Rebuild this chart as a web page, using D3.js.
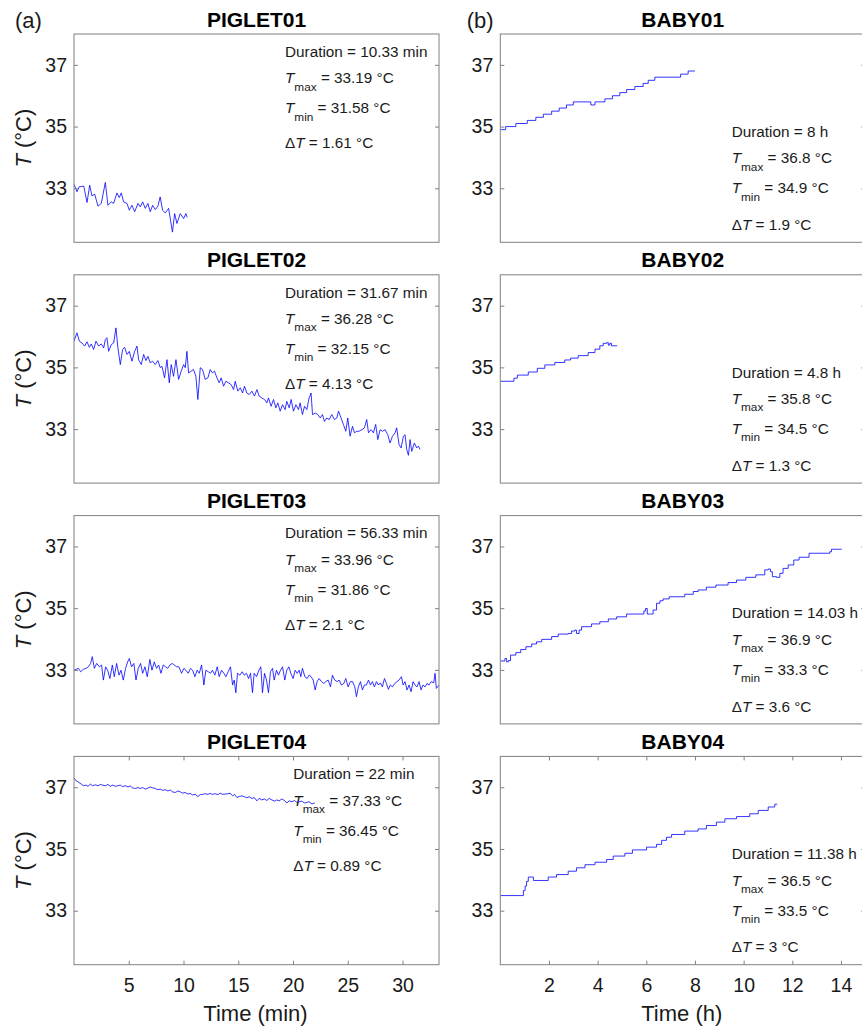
<!DOCTYPE html>
<html>
<head>
<meta charset="utf-8">
<script src="https://cdn.jsdelivr.net/npm/d3@7/dist/d3.min.js"></script>
<style>
  html, body { margin: 0; padding: 0; background: #fff; }
  svg { display: block; font-family: "Liberation Sans", Arial, Helvetica, sans-serif; }
</style>
</head>
<body>
<script>
// ---------------- DATA ----------------
// Time axes
const pigletXDomain = [0, 33.33];      // minutes
const babyXDomain = [0, 15];           // hours
const yDomain = [31.25, 38];           // °C
const yTicks = [33, 35, 37];
const pigletXTicks = [5, 10, 15, 20, 25, 30];
const babyXTicks = [2, 4, 6, 8, 10, 12, 14];

const pigletNames = ["PIGLET01", "PIGLET02", "PIGLET03", "PIGLET04"];
const babyNames = ["BABY01", "BABY02", "BABY03", "BABY04"];

const pigletDuration = ["10.33 min", "31.67 min", "56.33 min", "22 min"];
const pigletTmax = ["33.19", "36.28", "33.96", "37.33"];
const pigletTmin = ["31.58", "32.15", "31.86", "36.45"];
const pigletDeltaT = ["1.61", "4.13", "2.1", "0.89"];

const babyDuration = ["8 h", "4.8 h", "14.03 h", "11.38 h"];
const babyTmax = ["36.8", "35.8", "36.9", "36.5"];
const babyTmin = ["34.9", "34.5", "33.3", "33.5"];
const babyDeltaT = ["1.9", "1.3", "3.6", "3"];

// [time (min), T (°C)]
const piglet01 = [[0,33.13],[0.27,32.89],[0.48,33.05],[0.89,33.07],[1.19,32.54],[1.43,33.10],[1.64,32.75],[1.89,32.81],[2.19,32.42],[2.49,32.51],[2.86,33.19],[3.10,32.45],[3.40,32.56],[3.62,32.51],[3.92,32.85],[4.13,32.70],[4.32,32.85],[4.53,32.56],[4.84,32.51],[5.05,32.29],[5.29,32.45],[5.54,32.24],[5.84,32.51],[6.05,32.40],[6.27,32.56],[6.51,32.35],[6.75,32.51],[6.96,32.24],[7.18,32.45],[7.42,32.31],[7.66,32.42],[7.87,32.72],[8.09,32.29],[8.33,32.20],[8.64,32.35],[8.99,31.58],[9.19,32.18],[9.40,31.86],[9.70,32.18],[10.01,32.02],[10.22,32.18],[10.33,32.06]];

const piglet02 = [[0,35.85],[0.27,36.12],[0.49,35.85],[0.73,35.79],[0.97,35.69],[1.19,35.83],[1.40,35.65],[1.58,35.76],[1.79,35.58],[2.01,35.85],[2.25,35.69],[2.49,35.76],[2.71,35.63],[2.86,35.90],[3.01,35.96],[3.16,35.52],[3.41,35.74],[3.62,35.79],[3.83,36.28],[4.01,35.63],[4.23,35.09],[4.44,35.58],[4.62,35.65],[4.84,35.42],[5.05,35.52],[5.29,35.20],[5.54,35.52],[5.75,35.69],[5.90,35.25],[6.14,35.09],[6.36,35.42],[6.57,35.22],[6.75,35.36],[6.96,35.15],[7.18,35.20],[7.42,35.09],[7.66,35.22],[7.88,34.99],[8.03,35.04],[8.27,34.66],[8.49,35.25],[8.70,34.50],[8.88,35.09],[9.09,34.71],[9.31,35.25],[9.55,34.61],[9.79,34.88],[10.01,35.09],[10.16,34.99],[10.31,35.52],[10.46,34.82],[10.71,34.88],[10.92,34.93],[11.13,34.71],[11.31,33.96],[11.53,34.99],[11.74,34.93],[11.98,34.61],[12.23,34.66],[12.44,34.93],[12.65,34.82],[12.83,34.88],[13.05,34.66],[13.26,34.50],[13.44,34.66],[13.66,34.39],[13.87,34.55],[14.11,34.50],[14.36,34.44],[14.57,34.28],[14.72,34.55],[14.96,34.23],[15.18,34.34],[15.39,34.17],[15.57,34.39],[15.78,34.17],[16.00,34.12],[16.24,34.23],[16.48,34.07],[16.70,34.28],[16.91,34.07],[17.15,34.01],[17.40,33.96],[17.61,33.85],[17.76,34.01],[18.00,33.74],[18.22,33.96],[18.43,33.69],[18.61,33.85],[18.83,33.58],[19.04,33.79],[19.28,33.63],[19.43,33.90],[19.65,33.69],[19.83,33.96],[20.04,33.58],[20.26,33.79],[20.50,33.63],[20.65,33.85],[20.86,33.47],[21.05,33.74],[21.26,33.63],[21.47,34.01],[21.65,34.17],[21.78,33.47],[22.02,33.52],[22.26,33.47],[22.48,33.36],[22.69,33.47],[22.87,33.25],[23.08,33.36],[23.30,33.31],[23.54,33.47],[23.78,33.31],[24.00,33.36],[24.15,33.58],[24.39,33.36],[24.60,33.15],[24.82,32.93],[25.00,33.36],[25.21,32.77],[25.43,33.09],[25.61,32.88],[25.82,32.93],[26.03,32.93],[26.28,32.98],[26.52,33.04],[26.73,33.31],[26.89,32.88],[27.13,32.98],[27.34,32.88],[27.55,33.15],[27.74,32.66],[27.95,32.98],[28.16,32.93],[28.41,32.98],[28.65,32.82],[28.86,32.55],[29.08,32.77],[29.32,32.88],[29.47,33.04],[29.68,32.50],[29.87,32.39],[30.08,32.77],[30.23,32.82],[30.38,32.34],[30.54,32.15],[30.69,32.66],[30.84,32.28],[31.08,32.55],[31.30,32.39],[31.45,32.45],[31.60,32.34]];

const piglet03 = [[0,32.99],[0.40,33.05],[0.61,32.94],[0.85,33.02],[1.09,33.05],[1.31,33.10],[1.52,33.21],[1.67,33.43],[1.86,33.05],[2.07,33.21],[2.31,33.10],[2.52,33.16],[2.68,32.67],[2.89,33.10],[3.07,32.99],[3.28,32.72],[3.50,33.16],[3.68,32.78],[3.89,33.21],[4.11,32.83],[4.29,32.99],[4.50,32.67],[4.71,33.05],[4.90,33.26],[5.05,33.37],[5.26,33.10],[5.47,33.21],[5.66,32.67],[5.87,33.05],[6.08,33.21],[6.27,32.89],[6.48,33.10],[6.69,32.78],[6.93,33.34],[7.12,32.99],[7.33,33.26],[7.54,33.05],[7.73,33.16],[7.94,32.89],[8.15,33.16],[8.36,33.10],[8.55,33.05],[8.76,33.16],[8.97,33.21],[9.15,33.16],[9.37,33.10],[9.58,33.10],[9.82,32.89],[10.04,33.05],[10.22,32.99],[10.43,32.89],[10.64,33.05],[10.83,32.99],[11.04,32.78],[11.25,32.99],[11.44,32.89],[11.65,33.16],[11.86,32.51],[12.04,32.99],[12.26,32.94],[12.47,32.89],[12.65,32.99],[12.86,32.83],[13.08,33.10],[13.26,32.78],[13.47,32.99],[13.69,32.89],[13.87,32.78],[14.08,32.94],[14.29,33.10],[14.48,32.51],[14.63,32.67],[14.78,32.26],[14.93,32.89],[15.15,32.83],[15.36,32.94],[15.54,32.83],[15.75,32.89],[15.94,32.72],[16.12,32.89],[16.30,32.26],[16.45,32.89],[16.67,32.78],[16.88,32.99],[17.06,33.10],[17.21,32.26],[17.40,32.89],[17.58,32.67],[17.76,32.26],[17.94,32.94],[18.13,33.05],[18.28,32.67],[18.49,32.99],[18.67,32.83],[18.86,32.99],[19.04,33.10],[19.25,32.67],[19.43,32.99],[19.62,33.10],[19.80,32.89],[20.01,32.72],[20.19,32.99],[20.38,32.89],[20.56,32.99],[20.71,32.78],[20.86,33.05],[21.08,32.78],[21.29,32.72],[21.47,32.83],[21.65,32.78],[21.84,32.67],[22.02,32.35],[22.20,32.62],[22.38,32.72],[22.60,32.62],[22.81,32.56],[22.99,32.62],[23.21,32.67],[23.42,32.45],[23.60,32.83],[23.81,32.67],[24.03,32.62],[24.21,32.67],[24.42,32.51],[24.64,32.56],[24.82,32.72],[25.03,32.45],[25.24,32.62],[25.43,32.62],[25.64,32.45],[25.79,32.13],[25.97,32.45],[26.16,32.62],[26.34,32.35],[26.52,32.51],[26.70,32.51],[26.89,32.67],[27.07,32.51],[27.25,32.62],[27.43,32.45],[27.62,32.62],[27.80,32.51],[27.98,32.58],[28.16,32.45],[28.35,32.72],[28.53,32.56],[28.71,32.37],[28.89,32.51],[29.08,32.45],[29.29,32.56],[29.50,32.62],[29.68,32.67],[29.90,32.78],[30.05,32.51],[30.23,32.62],[30.41,32.35],[30.60,32.51],[30.78,32.29],[30.96,32.62],[31.14,32.51],[31.33,32.45],[31.51,32.62],[31.69,32.35],[31.87,32.51],[32.06,32.45],[32.24,32.56],[32.42,32.51],[32.63,32.62],[32.85,32.58],[32.97,32.89],[33.09,32.40],[33.33,32.51]];

const piglet04 = [[0,37.30],[0.18,37.21],[0.43,37.16],[0.67,37.10],[0.88,37.05],[1.09,37.07],[1.28,37.03],[1.49,37.10],[1.70,37.05],[1.95,37.08],[2.19,37.05],[2.40,37.09],[2.62,37.07],[2.86,37.05],[3.10,37.09],[3.32,37.03],[3.53,37.07],[3.77,37.03],[4.01,37.05],[4.23,37.07],[4.44,37.02],[4.68,37.05],[4.93,37.01],[5.14,37.04],[5.35,36.98],[5.60,36.96],[5.84,36.99],[6.05,36.96],[6.27,36.99],[6.51,36.94],[6.75,36.97],[6.96,37.01],[7.18,36.98],[7.42,36.96],[7.66,36.92],[7.88,36.94],[8.09,36.90],[8.33,36.92],[8.58,36.88],[8.79,36.91],[9.00,36.85],[9.25,36.83],[9.49,36.88],[9.70,36.85],[9.91,36.81],[10.16,36.83],[10.40,36.78],[10.61,36.80],[10.83,36.75],[11.07,36.77],[11.31,36.70],[11.53,36.76],[11.74,36.77],[11.98,36.79],[12.23,36.77],[12.44,36.80],[12.65,36.77],[12.90,36.79],[13.14,36.76],[13.35,36.81],[13.56,36.77],[13.81,36.78],[14.05,36.79],[14.26,36.81],[14.48,36.72],[14.66,36.77],[14.87,36.67],[15.09,36.70],[15.33,36.72],[15.57,36.69],[15.78,36.66],[16.00,36.69],[16.24,36.64],[16.48,36.66],[16.70,36.56],[16.91,36.64],[17.15,36.59],[17.40,36.62],[17.61,36.57],[17.82,36.64],[18.07,36.59],[18.31,36.55],[18.52,36.59],[18.73,36.56],[18.98,36.62],[19.22,36.57],[19.43,36.49],[19.65,36.56],[19.89,36.53],[20.13,36.57],[20.35,36.51],[20.56,36.53],[20.80,36.55],[21.05,36.49],[21.26,36.51],[21.47,36.53],[21.72,36.46],[21.96,36.49],[22.00,36.50]];

// [time (h), T (°C)] — level changes of the logged (stepped) temperature
const baby01 = [[0,34.9],[0.22,35.0],[0.64,35.1],[1.11,35.2],[1.46,35.3],[1.77,35.4],[2.11,35.5],[2.42,35.6],[2.72,35.7],[3.0,35.8],[3.72,35.7],[3.89,35.8],[4.30,35.9],[4.61,36.0],[4.91,36.1],[5.19,36.2],[5.53,36.3],[5.87,36.4],[6.08,36.5],[6.35,36.6],[7.41,36.7],[7.72,36.8],[8.0,36.8]];

const baby02 = [[0,34.55],[0.56,34.65],[0.70,34.75],[1.15,34.85],[1.52,34.97],[1.83,35.08],[2.24,35.16],[2.65,35.24],[2.89,35.30],[3.20,35.38],[3.61,35.48],[3.89,35.59],[4.09,35.70],[4.23,35.78],[4.37,35.80],[4.44,35.72],[4.50,35.78],[4.57,35.70],[4.80,35.70]];

const baby03 = [[0,33.29],[0.19,33.37],[0.26,33.26],[0.33,33.30],[0.42,33.48],[0.64,33.56],[0.84,33.66],[1.05,33.75],[1.29,33.84],[1.49,33.91],[1.70,33.99],[2.11,34.08],[2.38,34.16],[2.79,34.18],[2.93,34.26],[3.07,34.29],[3.13,34.18],[3.24,34.29],[3.34,34.40],[3.75,34.49],[4.09,34.56],[4.44,34.65],[4.78,34.72],[5.19,34.81],[5.90,34.91],[5.97,34.99],[6.04,34.81],[6.17,34.81],[6.28,34.94],[6.42,35.16],[6.56,35.24],[6.69,35.30],[6.94,35.37],[7.58,35.45],[7.93,35.54],[8.13,35.59],[8.47,35.68],[8.86,35.75],[9.36,35.83],[9.71,35.91],[10.09,36.00],[10.50,36.08],[10.87,36.24],[11.01,36.27],[11.10,36.18],[11.18,36.02],[11.35,36.00],[11.49,36.13],[11.62,36.29],[11.83,36.40],[12.06,36.56],[12.28,36.65],[12.69,36.78],[13.54,36.83],[13.61,36.91],[14.03,36.91]];

const baby04 = [[0,33.49],[0.88,33.49],[0.95,33.65],[1.02,33.80],[1.08,33.95],[1.15,34.09],[1.36,33.98],[1.97,34.09],[2.31,34.17],[2.79,34.28],[3.13,34.39],[3.48,34.49],[3.89,34.57],[4.37,34.66],[4.64,34.77],[5.12,34.86],[5.43,34.97],[6.01,35.06],[6.42,35.15],[6.63,35.28],[6.83,35.38],[7.04,35.47],[7.58,35.58],[8.13,35.65],[8.47,35.76],[8.88,35.87],[9.23,35.98],[9.71,36.05],[10.25,36.14],[10.60,36.25],[11.01,36.36],[11.28,36.45],[11.38,36.45]];

const pigletSeries = [piglet01, piglet02, piglet03, piglet04];
const babySeries = [baby01, baby02, baby03, baby04];

// ---------------- LAYOUT ----------------
const W = 862, H = 1028;
const colX = [74, 500.3];
const panelW = 365;
const rowTop = [34, 274.8, 515.6, 756.4];
const panelH = 208.3;
const annoX = [[211, 211, 211, 219.3], [231.4, 231.4, 231.4, 231.4]];
const annoY = [[22.7, 49.3, 79.3, 114.3], [102.7, 129.3, 159.3, 196]];

const textColor = "#1a1a1a";
const boxColor = "#808080";
const lineColor = "#0000ff";

const svg = d3.select("body").append("svg")
  .attr("width", W).attr("height", H)
  .attr("viewBox", `0 0 ${W} ${H}`);

svg.append("rect").attr("width", W).attr("height", H).attr("fill", "#fff");

const defs = svg.append("defs");

function drawPanel(col, row, name, series, dur, tmax, tmin, dt) {
  const x0 = colX[col], y0 = rowTop[row];
  const x = d3.scaleLinear().domain(col === 0 ? pigletXDomain : babyXDomain).range([x0, x0 + panelW]);
  const y = d3.scaleLinear().domain(yDomain).range([y0 + panelH, y0]);
  const isBottom = row === 3;
  const g = svg.append("g");

  const clipId = `clip-${col}-${row}`;
  defs.append("clipPath").attr("id", clipId)
    .append("rect").attr("x", x0).attr("y", y0).attr("width", panelW).attr("height", panelH);

  // data line
  const line = d3.line()
    .x(d => x(d[0])).y(d => y(d[1]))
    .curve(col === 0 ? d3.curveLinear : d3.curveStepAfter);
  g.append("path")
    .datum(series)
    .attr("clip-path", `url(#${clipId})`)
    .attr("fill", "none")
    .attr("stroke", lineColor)
    .attr("stroke-width", 0.8)
    .attr("stroke-linejoin", "round")
    .attr("d", line);

  // y axis left
  const yl = g.append("g").attr("transform", `translate(${x0},0)`)
    .call(d3.axisLeft(y).tickValues(yTicks).tickSize(-4).tickPadding(7).tickFormat(d3.format("d")));
  // y axis right (ticks only)
  const yr = g.append("g").attr("transform", `translate(${x0 + panelW},0)`)
    .call(d3.axisRight(y).tickValues(yTicks).tickSize(-4).tickFormat(""));
  [yl, yr].forEach(a => { a.select(".domain").remove(); a.selectAll("line").attr("stroke", boxColor); });

  if (isBottom) {
    const ticks = col === 0 ? pigletXTicks : babyXTicks;
    const xb = g.append("g").attr("transform", `translate(0,${y0 + panelH})`)
      .call(d3.axisBottom(x).tickValues(ticks).tickSize(-4).tickPadding(13.5).tickFormat(d3.format("d")));
    const xt = g.append("g").attr("transform", `translate(0,${y0})`)
      .call(d3.axisTop(x).tickValues(ticks).tickSize(-4).tickFormat(""));
    [xb, xt].forEach(a => { a.select(".domain").remove(); a.selectAll("line").attr("stroke", boxColor); });
    xb.selectAll("text").attr("font-size", 19.5).attr("fill", textColor).attr("font-family", "Liberation Sans, Arial, sans-serif");
    g.append("text")
      .attr("x", x0 + panelW / 2 - 1).attr("y", y0 + panelH + 56.5)
      .attr("text-anchor", "middle").attr("font-size", 22).attr("fill", textColor)
      .text(col === 0 ? "Time (min)" : "Time (h)");
  }
  yl.selectAll("text").attr("font-size", 19.5).attr("fill", textColor).attr("font-family", "Liberation Sans, Arial, sans-serif");

  // box
  g.append("rect")
    .attr("x", x0).attr("y", y0).attr("width", panelW).attr("height", panelH)
    .attr("fill", "none").attr("stroke", boxColor).attr("stroke-width", 1);

  // title
  g.append("text")
    .attr("x", x0 + panelW / 2).attr("y", y0 - 7.4)
    .attr("text-anchor", "middle").attr("font-size", 21).attr("font-weight", "bold")
    .attr("fill", "#000").text(name);

  // y label (left column)
  if (col === 0) {
    const t = g.append("text")
      .attr("transform", `translate(31,${y0 + panelH / 2}) rotate(-90)`)
      .attr("text-anchor", "middle").attr("font-size", 22).attr("fill", textColor);
    t.append("tspan").attr("font-style", "italic").text("T");
    t.append("tspan").text(" (°C)");
  }

  // annotation
  const ax = x0 + annoX[col][row];
  const ay = annoY[col];
  const fs = 15.3;
  const a = g.append("g").attr("fill", textColor).attr("font-size", fs);
  a.append("text").attr("x", ax).attr("y", y0 + ay[0]).text(`Duration = ${dur}`);

  const t1 = a.append("text").attr("x", ax).attr("y", y0 + ay[1]);
  t1.append("tspan").attr("font-style", "italic").text("T");
  t1.append("tspan").attr("font-size", 11.8).attr("dy", 7.3).text("max");
  t1.append("tspan").attr("dy", -7.3).text(` = ${tmax} °C`);

  const t2 = a.append("text").attr("x", ax).attr("y", y0 + ay[2]);
  t2.append("tspan").attr("font-style", "italic").text("T");
  t2.append("tspan").attr("font-size", 11.8).attr("dy", 7.3).text("min");
  t2.append("tspan").attr("dy", -7.3).text(` = ${tmin} °C`);

  const t3 = a.append("text").attr("x", ax).attr("y", y0 + ay[3]);
  t3.append("tspan").text("Δ");
  t3.append("tspan").attr("font-style", "italic").text("T");
  t3.append("tspan").text(` = ${dt} °C`);
}

for (let i = 0; i < 4; i++) {
  drawPanel(0, i, pigletNames[i], pigletSeries[i], pigletDuration[i], pigletTmax[i], pigletTmin[i], pigletDeltaT[i]);
  drawPanel(1, i, babyNames[i], babySeries[i], babyDuration[i], babyTmax[i], babyTmin[i], babyDeltaT[i]);
}

// panel letters
svg.append("text").attr("x", 15).attr("y", 27.5).attr("font-size", 22).attr("fill", textColor).text("(a)");
svg.append("text").attr("x", 466.7).attr("y", 27.5).attr("font-size", 22).attr("fill", textColor).text("(b)");
</script>
</body>
</html>
